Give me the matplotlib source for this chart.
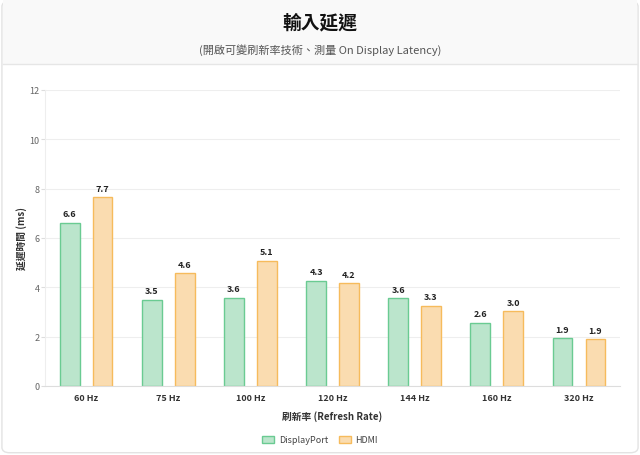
import matplotlib.pyplot as plt
import numpy as np
from matplotlib.patches import FancyBboxPatch, Rectangle

plt.rcParams['font.family'] = ['Noto Sans CJK TC', 'DejaVu Sans']

# data
categories = ['60 Hz', '75 Hz', '100 Hz', '120 Hz', '144 Hz', '160 Hz', '320 Hz']
displayport = [6.62, 3.49, 3.57, 4.26, 3.56, 2.57, 1.93]
hdmi = [7.66, 4.58, 5.07, 4.16, 3.26, 3.04, 1.89]
series_names = ['DisplayPort', 'HDMI']
y_ticks = [0, 2, 4, 6, 8, 10, 12]

fig = plt.figure(figsize=(6.4, 4.56), dpi=100)

# card background and header band
fig.patches.append(FancyBboxPatch((0.003, 0.005), 0.994, 0.99, boxstyle='round,pad=0,rounding_size=0.012',
                                  transform=fig.transFigure, facecolor='white', edgecolor='#e3e3e3',
                                  linewidth=1, zorder=-3))
fig.patches.append(Rectangle((0.004, 1 - 65 / 456), 0.992, 64 / 456, transform=fig.transFigure,
                             facecolor='#f9f9f9', edgecolor='none', zorder=-2))
fig.lines.append(plt.Line2D([0.004, 0.996], [1 - 65 / 456] * 2, transform=fig.transFigure,
                            color='#e6e6e6', linewidth=1))

fig.text(0.5, 1 - 23 / 456, '輸入延遲', ha='center', va='center', fontsize=13.5,
         fontweight='bold', color='#111111')
fig.text(0.5, 1 - 50 / 456, '(開啟可變刷新率技術、測量 On Display Latency)', ha='center',
         va='center', fontsize=8, color='#555555')

ax = fig.add_axes([45 / 640, 1 - 387 / 456, 575 / 640, 296 / 456])
x = np.arange(len(categories))
off = 0.2
w = 0.24
b1 = ax.bar(x - off, displayport, w, color='#bbe5cc', edgecolor='#6acb92', linewidth=1,
            label=series_names[0], zorder=2)
b2 = ax.bar(x + off, hdmi, w, color='#fadcb0', edgecolor='#f6bb5c', linewidth=1,
            label=series_names[1], zorder=2)

for bars in (b1, b2):
    for r in bars:
        ax.text(r.get_x() + r.get_width() / 2, r.get_height() + 0.18, f'{r.get_height():.1f}',
                ha='center', va='bottom', fontsize=6.5, fontweight='bold', color='#222222')

ax.set_xlim(-0.5, len(categories) - 0.5)
ax.set_ylim(0, 12)
ax.set_yticks(y_ticks)
ax.set_xticks(x)
ax.set_xticklabels(categories, fontsize=6.5, fontweight='bold', color='#333333')
ax.tick_params(axis='y', labelsize=6.5, labelcolor='#666666', length=3, color='#dddddd', pad=1)
ax.tick_params(axis='x', length=0, pad=5)
ax.grid(axis='y', color='#eeeeee', linewidth=0.8, zorder=0)
for s in ['top', 'right']:
    ax.spines[s].set_visible(False)
ax.spines['left'].set_color('#eeeeee')
ax.spines['bottom'].set_color('#dddddd')

ax.set_xlabel('刷新率 (Refresh Rate)', fontsize=7, fontweight='bold', color='#333333', labelpad=6)
ax.set_ylabel('延遲時間 (ms)', fontsize=7, fontweight='bold', color='#333333', labelpad=2)

fig.legend(handles=[b1, b2], labels=series_names, loc='center', bbox_to_anchor=(0.5, 1 - 441 / 456),
           ncol=2, frameon=False, fontsize=6.5, handlelength=1.3, handleheight=0.7,
           columnspacing=1.2, handletextpad=0.5, labelcolor='#444444')

fig.savefig('out.png', dpi=100)
